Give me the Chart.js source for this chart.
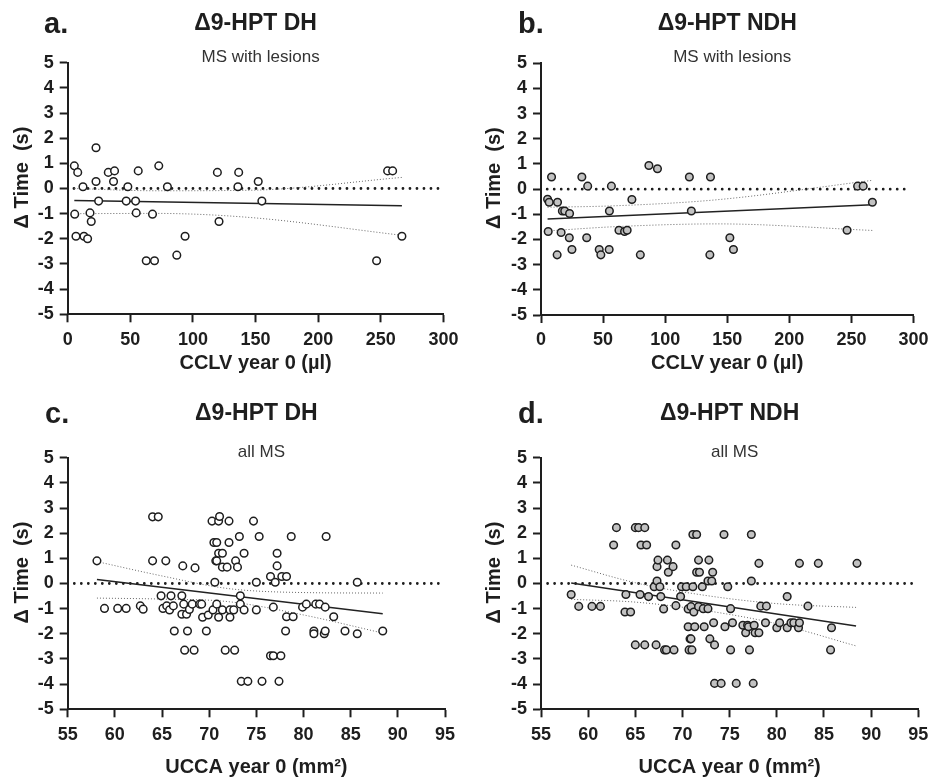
<!DOCTYPE html>
<html>
<head>
<meta charset="utf-8">
<script src="https://cdn.jsdelivr.net/npm/chart.js@4.4.1/dist/chart.umd.min.js"></script>
<style>
  body { margin: 0; background: #fff; }
  #wrap { position: relative; width: 935px; height: 780px; }
  #wrap canvas { position: absolute; }
</style>
</head>
<body>
<div id="wrap">
  <canvas id="pa" width="465" height="390" style="left:0;top:0"></canvas>
  <canvas id="pb" width="470" height="390" style="left:465px;top:0"></canvas>
  <canvas id="pc" width="465" height="390" style="left:0;top:390px"></canvas>
  <canvas id="pd" width="470" height="390" style="left:465px;top:390px"></canvas>
</div>
<script>
// a. DH, MS with lesions: CCLV (µl) vs change in time (s)
const cclvDH = [5.3, 5.6, 6.6, 8, 12.2, 13, 15.9, 17.8, 18.8, 22.6, 22.6, 24.7, 32.4, 36.6, 37.4,
  46.7, 48, 54.2, 54.7, 56.3, 62.7, 67.7, 69.3, 72.7, 79.6, 87.1, 93.7, 119.5, 120.8, 135.9,
  136.5, 152.1, 155, 246.6, 255.4, 259.4, 266.8];
const timeDH = [0.9, -1.02, -1.9, 0.64, 0.07, -1.9, -2.0, -0.97, -1.31, 1.62, 0.28, -0.5, 0.64, 0.28, 0.7,
  -0.5, 0.07, -0.5, -0.97, 0.7, -2.87, -1.02, -2.87, 0.9, 0.07, -2.65, -1.9, 0.64, -1.31, 0.07,
  0.64, 0.28, -0.5, -2.87, 0.7, 0.7, -1.9];
const fitXDH = [5.3, 266.8];
const fitDH = [-0.48, -0.69];
const bandXDH = [5.3, 70, 145, 266.8];
const upperDH = [0.0, -0.09, -0.07, 0.44];
const lowerDH = [-1.0, -0.99, -1.15, -1.86];

// b. NDH, MS with lesions
const cclvNDH = [5.3, 5.8, 6.6, 8.5, 13, 13.3, 16.2, 17.2, 19.1, 22.8, 23, 24.9, 32.9, 36.8, 37.6,
  46.9, 48.2, 54.9, 55.1, 56.7, 62.8, 67.3, 69.4, 73.2, 80, 86.9, 93.8, 119.5, 121.1, 136,
  136.5, 152.1, 155, 246.5, 255, 259.5, 266.9];
const timeNDH = [-0.4, -1.68, -0.52, 0.48, -2.61, -0.52, -1.72, -0.87, -0.87, -1.93, -0.97, -2.4, 0.48, -1.93, 0.12,
  -2.4, -2.61, -2.4, -0.87, 0.12, -1.63, -1.68, -1.63, -0.41, -2.61, 0.94, 0.81, 0.48, -0.87, -2.61,
  0.48, -1.93, -2.4, -1.63, 0.12, 0.12, -0.52];
const fitXNDH = [5.3, 266.9];
const fitNDH = [-1.19, -0.62];
const bandXNDH = [5.3, 60, 142, 266.9];
const upperNDH = [-0.72, -0.66, -0.42, 0.35];
const lowerNDH = [-1.66, -1.49, -1.38, -1.64];

// c. DH, all MS: UCCA (mm²) vs change in time (s)
const uccaDH = [58.1, 58.9, 60.3, 61.2, 62.7, 63, 64, 64, 64.6, 64.9, 65.1, 65.4, 65.5, 65.8, 65.95,
  66.2, 66.3, 67.1, 67.1, 67.2, 67.3, 67.4, 67.6, 67.7, 67.9, 68.2, 68.4, 68.5, 69, 69.2,
  69.3, 69.7, 69.9, 70.3, 70.4, 70.5, 70.6, 70.7, 70.8, 70.8, 70.8, 71, 71, 71, 71.1,
  71.4, 71.4, 71.4, 71.7, 71.9, 72.1, 72.1, 72.2, 72.2, 72.6, 72.7, 72.8, 73, 73.2, 73.3,
  73.3, 73.4, 73.7, 73.7, 74.1, 74.7, 75, 75, 75.3, 75.6, 76.5, 76.5, 76.8, 76.8, 77,
  77.2, 77.2, 77.4, 77.6, 77.7, 78.1, 78.2, 78.2, 78.7, 78.9, 79.9, 80.3, 81.1, 81.1, 81.3,
  81.7, 82.2, 82.3, 82.3, 82.4, 83.2, 84.4, 85.7, 85.7, 88.4];
const timeAllDH = [0.9, -0.99, -0.99, -0.99, -0.89, -1.02, 2.65, 0.9, 2.65, -0.49, -0.99, 0.9, -0.89, -1.05, -0.49,
  -0.89, -1.89, -0.49, -1.22, 0.7, -0.82, -2.65, -1.22, -1.89, -1.03, -0.82, -2.65, 0.62, -0.82, -0.82,
  -1.34, -1.89, -1.25, 2.48, -1.05, 1.63, 0.05, 0.9, 1.63, 0.9, -0.82, 2.48, 1.2, -1.34, 2.66,
  1.2, 0.65, -1.05, -2.65, 0.65, 2.48, 1.63, -1.05, -1.34, -1.05, -2.65, 0.9, 0.65, 1.87, -0.49,
  -0.82, -3.89, 1.2, -1.05, -3.89, 2.48, 0.05, -1.05, 1.87, -3.89, 0.28, -2.87, -0.94, -2.87, 0.05,
  1.2, 0.7, -3.89, -2.87, 0.28, -1.89, 0.28, -1.32, 1.87, -1.32, -0.94, -0.82, -1.89, -2.0, -0.82,
  -0.82, -2.0, -0.94, -1.89, 1.87, -1.32, -1.89, 0.05, -2.0, -1.89];
const fitXAllDH = [58.1, 88.4];
const fitAllDH = [0.16, -1.2];
const bandXAllDH = [58.1, 65, 72, 80, 88.4];
const upperAllDH = [0.87, 0.3, -0.2, -0.36, -0.38];
const lowerAllDH = [-0.58, -0.62, -0.72, -1.25, -1.97];

// d. NDH, all MS
const uccaNDH = [58.2, 59, 60.4, 61.3, 62.7, 63, 63.9, 64, 64.5, 65, 65, 65.35, 65.5, 65.6, 66,
  66, 66.2, 66.4, 67, 67.2, 67.3, 67.3, 67.4, 67.6, 67.7, 68, 68.1, 68.3, 68.4, 68.5,
  69, 69.1, 69.3, 69.3, 69.8, 69.9, 70.4, 70.6, 70.6, 70.7, 70.8, 70.9, 70.9, 71, 71.1,
  71.1, 71.2, 71.3, 71.5, 71.5, 71.7, 71.7, 71.8, 72.1, 72.2, 72.3, 72.7, 72.7, 72.8, 72.9,
  73.1, 73.2, 73.3, 73.4, 73.4, 74.1, 74.4, 74.5, 74.8, 75.1, 75.1, 75.3, 75.7, 76.4, 76.7,
  76.9, 77, 77.1, 77.3, 77.3, 77.5, 77.6, 77.7, 78.1, 78.1, 78.3, 78.8, 78.9, 80, 80.3,
  81.1, 81.1, 81.5, 81.8, 82.3, 82.4, 82.4, 83.3, 84.4, 85.7, 85.8, 88.5];
const timeAllNDH = [-0.44, -0.91, -0.91, -0.91, 1.53, 2.22, -1.13, -0.44, -1.13, 2.22, -2.44, 2.22, -0.44, 1.53, 2.22,
  -2.44, 1.53, -0.52, -0.13, -2.44, 0.67, 0.1, 0.93, -0.13, -0.52, -1.01, -2.64, -2.64, 0.93, 0.45,
  0.67, -2.64, 1.53, -0.88, -0.52, -0.13, -0.13, -1.01, -1.72, -2.64, -2.2, -0.92, -2.2, -2.64, -0.13,
  1.95, -1.13, -1.72, 1.95, 0.45, 0.93, -0.92, 0.45, -0.13, -1.0, -1.72, -1.0, 0.1, 0.93, -2.2,
  0.1, 0.45, -1.56, -2.44, -3.97, -3.97, 1.95, -1.72, -0.13, -1.0, -2.64, -1.56, -3.97, -1.66, -1.96,
  -1.66, -1.72, -2.64, 1.95, 0.1, -3.97, -1.66, -1.96, -1.96, 0.8, -0.9, -1.56, -0.9, -1.76, -1.56,
  -0.52, -1.76, -1.56, -1.56, -1.76, -1.56, 0.8, -0.9, 0.8, -2.64, -1.76, 0.8];
const fitXAllNDH = [58.2, 88.4];
const fitAllNDH = [0.02, -1.69];
const bandXAllNDH = [58.2, 65, 72, 80, 88.4];
const upperAllNDH = [0.73, 0.03, -0.45, -0.8, -0.95];
const lowerAllNDH = [-0.63, -0.74, -1.05, -1.6, -2.48];

const yTicks = [-5, 5, 1];
const FONT = '"Liberation Sans", Arial, Helvetica, sans-serif';
const INK = '#1e1e1e';

const pts = (xs, ys) => xs.map((x, i) => ({ x, y: ys[i] }));

// letters, titles and the rotated y title drawn onto each panel
const panelText = {
  id: 'panelText',
  afterDraw(chart, args, o) {
    const { ctx, chartArea: ca } = chart;
    const mid = (ca.left + ca.right) / 2;
    ctx.save();
    ctx.fillStyle = INK;
    ctx.textBaseline = 'alphabetic';
    ctx.textAlign = 'left';
    ctx.font = 'bold 29px ' + FONT;
    ctx.fillText(o.letter, o.letterX, 33);
    ctx.textAlign = 'center';
    ctx.font = 'bold 23px ' + FONT;
    ctx.fillText(o.title, mid, 30);
    ctx.font = '17px ' + FONT;
    ctx.fillStyle = '#333';
    ctx.fillText(o.subtitle, mid + 5, ca.top - 1);
    ctx.fillStyle = INK;
    ctx.translate(o.yTitleX, (ca.top + ca.bottom) / 2 - 11);
    ctx.rotate(-Math.PI / 2);
    ctx.textBaseline = 'middle';
    ctx.font = 'bold 20px ' + FONT;
    ctx.fillText('Δ Time  (s)', 0, 0);
    ctx.restore();
  }
};

function axisStyle() {
  return {
    grid: { drawOnChartArea: false, drawTicks: true, tickLength: 8, tickWidth: 2, tickColor: INK },
    border: { color: INK, width: 2 }
  };
}

function makePanel(id, p) {
  const datasets = [
    {
      data: pts(p.x, p.y),
      pointRadius: 3.8,
      pointBorderWidth: 1.5,
      pointBorderColor: INK,
      pointBackgroundColor: p.fill
    },
    {
      data: pts(p.fitX, p.fit),
      showLine: true, pointRadius: 0,
      borderColor: '#222', borderWidth: 1.5
    },
    {
      data: pts(p.bandX, p.upper),
      showLine: true, pointRadius: 0, cubicInterpolationMode: 'monotone',
      borderColor: '#666', borderWidth: 1, borderDash: [1, 2]
    },
    {
      data: pts(p.bandX, p.lower),
      showLine: true, pointRadius: 0, cubicInterpolationMode: 'monotone',
      borderColor: '#666', borderWidth: 1, borderDash: [1, 2]
    },
    {
      data: pts(p.zeroX, [0, 0]),
      showLine: true, pointRadius: 0,
      borderColor: INK, borderWidth: 2.8, borderDash: [0, 7], borderCapStyle: 'round'
    }
  ];

  new Chart(document.getElementById(id), {
    type: 'scatter',
    data: { datasets },
    options: {
      responsive: false,
      animation: false,
      events: [],
      layout: { padding: { left: 0, top: p.top, right: p.right, bottom: 0 } },
      plugins: {
        legend: { display: false },
        tooltip: { enabled: false },
        panelText: p.text
      },
      scales: {
        x: {
          type: 'linear',
          min: p.xTicks[0], max: p.xTicks[1],
          ticks: { stepSize: p.xTicks[2], padding: 6.5, color: INK, font: { family: FONT, size: 18, weight: 'bold' } },
          title: {
            display: true, text: p.xTitle, color: INK,
            font: { family: FONT, size: 20, weight: 'bold' },
            padding: { top: 0, bottom: p.xTitlePad }
          },
          ...axisStyle(),
          afterFit: s => { s.height = p.xHeight; }
        },
        y: {
          min: yTicks[0], max: yTicks[1],
          ticks: { stepSize: yTicks[2], padding: 6, color: INK, font: { family: FONT, size: 18, weight: 'bold' } },
          ...axisStyle(),
          afterFit: s => { s.width = p.left; }
        }
      }
    },
    plugins: [panelText]
  });
}

makePanel('pa', {
  x: cclvDH, y: timeDH, fill: '#ffffff',
  fitX: fitXDH, fit: fitDH, bandX: bandXDH, upper: upperDH, lower: lowerDH,
  zeroX: [5, 296], xTicks: [0, 300, 50], xTitle: 'CCLV year 0 (µl)',
  left: 67.7, right: 20.7, top: 62.7, xHeight: 75.7, xTitlePad: 15,
  text: { letter: 'a.', letterX: 44, title: 'Δ9-HPT DH', subtitle: 'MS with lesions', yTitleX: 22 }
});

makePanel('pb', {
  x: cclvNDH, y: timeNDH, fill: '#c2c2c2',
  fitX: fitXNDH, fit: fitNDH, bandX: bandXNDH, upper: upperNDH, lower: lowerNDH,
  zeroX: [5, 296], xTicks: [0, 300, 50], xTitle: 'CCLV year 0 (µl)',
  left: 76, right: 16.7, top: 63.3, xHeight: 75, xTitlePad: 15,
  text: { letter: 'b.', letterX: 53, title: 'Δ9-HPT NDH', subtitle: 'MS with lesions', yTitleX: 29 }
});

makePanel('pc', {
  x: uccaDH, y: timeAllDH, fill: '#ffffff',
  fitX: fitXAllDH, fit: fitAllDH, bandX: bandXAllDH, upper: upperAllDH, lower: lowerAllDH,
  zeroX: [55.7, 94.4], xTicks: [55, 95, 5], xTitle: 'UCCA year 0 (mm²)',
  left: 67.7, right: 20, top: 67.7, xHeight: 70.7, xTitlePad: 1,
  text: { letter: 'c.', letterX: 45, title: 'Δ9-HPT DH', subtitle: 'all MS', yTitleX: 22 }
});

makePanel('pd', {
  x: uccaNDH, y: timeAllNDH, fill: '#c2c2c2',
  fitX: fitXAllNDH, fit: fitAllNDH, bandX: bandXAllNDH, upper: upperAllNDH, lower: lowerAllNDH,
  zeroX: [55.7, 94.4], xTicks: [55, 95, 5], xTitle: 'UCCA year 0 (mm²)',
  left: 76, right: 16.7, top: 67.7, xHeight: 70.7, xTitlePad: 1,
  text: { letter: 'd.', letterX: 53, title: 'Δ9-HPT NDH', subtitle: 'all MS', yTitleX: 29 }
});
</script>
</body>
</html>
